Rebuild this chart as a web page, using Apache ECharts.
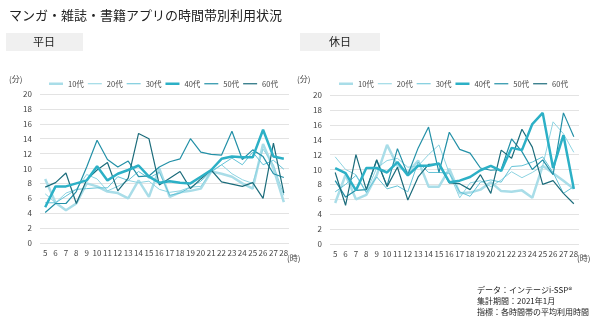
<!DOCTYPE html>
<html><head><meta charset="utf-8">
<script src="https://cdn.jsdelivr.net/npm/echarts@6/dist/echarts.min.js"></script>
<style>html,body{margin:0;padding:0;background:#fff}#c{width:600px;height:323px}</style>
</head><body><div id="c"></div>
<script>
const hours = ['5','6','7','8','9','10','11','12','13','14','15','16','17','18','19','20','21','22','23','24','25','26','27','28'];
const ages = ['10代','20代','30代','40代','50代','60代'];
const colors = ['#a9dde8','#8dd3e1','#63c2d6','#2cb0c6','#2390a7','#1c6c7b'];
const widths = [2.5,1,1,2.5,1.2,1.2];

// 平日 (weekday)
const wd10 = [8.6,5.4,4.4,5.3,8.0,7.6,6.9,6.7,6.0,8.4,6.2,10.0,6.2,6.8,7.0,7.3,9.6,9.3,8.9,8.0,7.3,13.3,10.0,5.5];
const wd20 = [6.6,5.4,6.7,7.2,9.2,8.6,7.0,7.6,8.4,8.1,8.3,7.2,6.8,7.0,7.5,7.6,9.5,10.5,9.3,8.5,8.0,12.6,10.5,6.4];
const wd30 = [5.4,5.4,6.3,7.2,7.3,7.4,7.4,8.9,8.4,9.6,8.7,9.5,6.4,6.7,7.5,8.3,9.6,10.5,11.4,10.5,12.2,10.5,11.1,9.9];
const wd40 = [4.8,7.6,7.6,8.0,8.4,10.3,8.4,9.3,9.8,10.4,8.9,8.1,8.3,8.1,8.0,8.9,9.8,11.3,11.6,11.5,11.5,15.2,11.6,11.3];
const wd50 = [4.1,5.3,5.3,6.9,10.2,13.8,11.2,10.2,11.0,8.9,9.0,10.2,10.9,11.3,14.0,12.2,11.9,11.8,15.0,11.2,12.5,11.6,9.3,8.8];
const wd60 = [7.5,8.1,9.4,5.3,8.5,9.8,10.8,7.0,8.7,14.7,14.0,7.8,8.7,9.6,7.3,8.6,9.8,8.2,7.9,7.6,8.1,6.0,13.4,6.7];

// 休日 (holiday)
const hd10 = [5.5,9.3,6.0,6.6,9.2,13.3,10.5,9.6,11.2,7.7,7.7,10.1,6.8,6.9,7.3,8.3,7.1,7.0,7.2,6.2,10.5,9.5,8.5,7.4];
const hd20 = [11.7,10.0,9.3,7.0,10.2,11.2,11.5,10.3,10.5,12.0,13.3,9.5,6.2,8.2,8.5,7.7,8.6,9.7,8.9,9.6,10.5,16.4,14.8,12.3];
const hd30 = [7.0,8.0,9.2,6.9,9.0,7.4,7.8,7.0,11.0,9.6,9.6,9.5,7.0,6.4,8.3,8.6,8.3,10.4,10.5,11.0,11.7,9.6,6.8,7.7];
const hd40 = [10.2,9.5,7.2,10.2,10.2,9.6,11.0,9.2,10.5,10.5,10.8,8.3,8.5,9.0,9.9,10.5,9.8,12.9,12.6,16.1,17.6,10.2,14.6,7.4];
const hd50 = [8.5,6.3,7.2,7.3,11.2,7.8,12.8,9.3,12.9,15.7,9.6,15.0,12.7,12.2,10.2,9.9,10.0,14.1,12.4,10.0,11.3,9.3,17.6,14.4];
const hd60 = [9.6,5.2,12.0,7.3,11.3,7.7,10.3,5.9,9.0,10.7,10.7,8.2,8.1,7.3,9.3,6.8,12.6,11.5,15.4,13.0,8.0,8.5,6.8,5.4];

const wd = [wd10,wd20,wd30,wd40,wd50,wd60];
const hd = [hd10,hd20,hd30,hd40,hd50,hd60];
const yTicks = [0,2,4,6,8,10,12,14,16,18,20];

const FONT = '"Noto Sans CJK JP", sans-serif';
const chart = echarts.init(document.getElementById('c'), null, {renderer:'canvas'});

function xAx(gi){ return {type:'category', gridIndex:gi, data:hours, boundaryGap:true,
  axisLine:{show:false}, axisTick:{show:false},
  axisLabel:{color:'#444', fontSize:8, margin:6, interval:0, fontFamily:FONT}}; }
function yAx(gi){ return {type:'value', gridIndex:gi, min:yTicks[0], max:yTicks[yTicks.length-1], interval:2,
  axisLine:{show:false}, axisTick:{show:false},
  splitLine:{lineStyle:{color:'#e3e3e3', width:1}},
  axisLabel:{color:'#444', fontSize:8, margin:8, fontFamily:FONT}}; }

const series = [];
[wd,hd].forEach((set,gi)=>{
  set.forEach((arr,i)=>{
    series.push({name:ages[i], type:'line', xAxisIndex:gi, yAxisIndex:gi, data:arr,
      symbol:'none', smooth:false, animation:false,
      lineStyle:{color:colors[i], width:widths[i]}, itemStyle:{color:colors[i]}, z: (i===3?5:2)});
  });
});

function legendData(){
  return ages.map((a,i)=>{
    const h = Math.max(1, Math.round(widths[i]*10)/10);
    return {name:a, icon:'path://M0,0 L14,0 L14,'+h+' L0,'+h+' Z', itemStyle:{color:colors[i]}};
  });
}
const legendBase = {itemWidth:14, itemHeight:8, itemGap:4,
  textStyle:{fontSize:7.5, color:'#444', fontFamily:FONT}};

chart.setOption({
  animation:false,
  textStyle:{fontFamily:FONT},
  title:[
    {text:'マンガ・雑誌・書籍アプリの時間帯別利用状況', left:4, top:4, textStyle:{fontSize:13, fontWeight:'normal', color:'#222', fontFamily:FONT}}
  ],
  graphic:[
    {type:'rect', shape:{x:6,y:33,width:77,height:18}, style:{fill:'#f0f0f0'}},
    {type:'text', x:44, y:42, style:{text:'平日', fill:'#222', font:'11px '+FONT, textAlign:'center', textVerticalAlign:'middle'}},
    {type:'rect', shape:{x:300,y:33,width:80,height:18}, style:{fill:'#f0f0f0'}},
    {type:'text', x:340, y:42, style:{text:'休日', fill:'#222', font:'11px '+FONT, textAlign:'center', textVerticalAlign:'middle'}},
    {type:'text', x:9, y:79, style:{text:'(分)', font:'8px '+FONT, fill:'#444', textVerticalAlign:'middle'}},
    {type:'text', x:297, y:79, style:{text:'(分)', font:'8px '+FONT, fill:'#444', textVerticalAlign:'middle'}},
    {type:'text', x:287, y:258, style:{text:'(時)', font:'8px '+FONT, fill:'#444', textVerticalAlign:'middle'}},
    {type:'text', x:577, y:258, style:{text:'(時)', font:'8px '+FONT, fill:'#444', textVerticalAlign:'middle'}},
    {type:'text', x:477, y:290, style:{text:'データ：インテージi-SSP®', font:'8px '+FONT, fill:'#222', textVerticalAlign:'middle'}},
    {type:'text', x:477, y:301, style:{text:'集計期間：2021年1月', font:'8px '+FONT, fill:'#222', textVerticalAlign:'middle'}},
    {type:'text', x:477, y:312, style:{text:'指標：各時間帯の平均利用時間', font:'8px '+FONT, fill:'#222', textVerticalAlign:'middle'}}
  ],
  legend:[
    Object.assign({}, legendBase, {data:legendData(), left:44, top:75}),
    Object.assign({}, legendBase, {data:legendData(), left:334, top:75})
  ],
  grid:[
    {left:40, top:94, width:249, height:149},
    {left:330, top:95, width:249, height:149}
  ],
  xAxis:[xAx(0), xAx(1)],
  yAxis:[yAx(0), yAx(1)],
  series: series
});
</script></body></html>
